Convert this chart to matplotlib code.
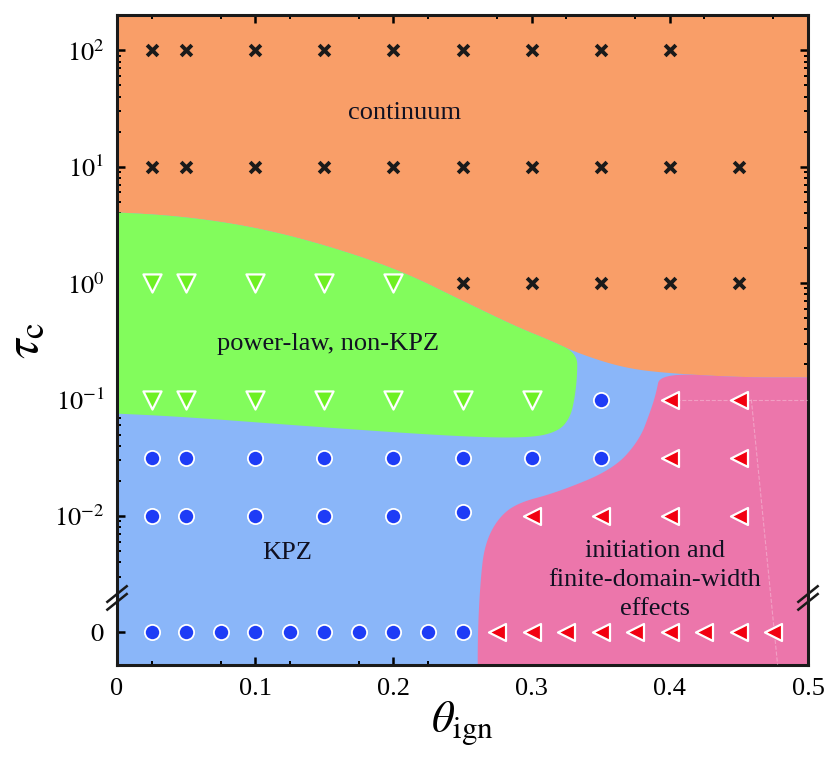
import numpy as np
import matplotlib
matplotlib.use("Agg")
import matplotlib.pyplot as plt

plt.rcParams['font.family'] = ['Liberation Serif', 'DejaVu Serif']
plt.rcParams['mathtext.fontset'] = 'stix'

# y is plotted as log10(tau_c); tau_c = 0 is drawn one decade below 1e-2
ZERO_POS = -3.0

# measured points (theta_ign, log10 tau_c or ZERO_POS)
cont_x = [0.025, 0.05, 0.1, 0.15, 0.2, 0.25, 0.3, 0.35, 0.4,
          0.025, 0.05, 0.1, 0.15, 0.2, 0.25, 0.3, 0.35, 0.4, 0.45,
          0.25, 0.3, 0.35, 0.4, 0.45]
cont_y = [2]*9 + [1]*10 + [0]*5

plaw_x = [0.025, 0.05, 0.1, 0.15, 0.2,
          0.025, 0.05, 0.1, 0.15, 0.2, 0.25, 0.3]
plaw_y = [0]*5 + [-1]*7

kpz_x = [0.35,
         0.025, 0.05, 0.1, 0.15, 0.2, 0.25, 0.3, 0.35,
         0.025, 0.05, 0.1, 0.15, 0.2, 0.25,
         0.025, 0.05, 0.075, 0.1, 0.125, 0.15, 0.175, 0.2, 0.225, 0.25]
kpz_y = [-1] + [-1.5]*8 + [-2]*5 + [-1.97] + [ZERO_POS]*10

init_x = [0.4, 0.45,
          0.4, 0.45,
          0.3, 0.35, 0.4, 0.45,
          0.275, 0.3, 0.325, 0.35, 0.375, 0.4, 0.425, 0.45, 0.475]
init_y = [-1]*2 + [-1.5]*2 + [-2]*4 + [ZERO_POS]*9

# region boundaries
# lower edge of the orange "continuum" region, left to right
orange_low_x = [-0.05, 0, 0.05, 0.1, 0.15, 0.205, 0.253, 0.29, 0.313, 0.333,
                0.364, 0.393, 0.451, 0.5, 0.55]
orange_low_y = [0.62, 0.61, 0.57, 0.48, 0.33, 0.11, -0.17, -0.38, -0.49, -0.60,
                -0.72, -0.77, -0.81, -0.81, -0.81]

# green region: upper edge follows the orange edge up to 0.333, then
# down the right side and back along the bottom
green_side_x = [0.333, 0.333, 0.331, 0.328, 0.32, 0.3, 0.25, 0.15, 0.05, 0, -0.05]
green_side_y = [-0.60, -0.8, -1.0, -1.15, -1.27, -1.33, -1.32, -1.24, -1.15, -1.12, -1.1]

# blue/pink edge, top to bottom
pink_edge_x = [0.393, 0.39, 0.386, 0.378, 0.359, 0.318, 0.289, 0.275,
               0.266, 0.263, 0.261, 0.261]
pink_edge_y = [-0.77, -0.95, -1.1, -1.35, -1.6, -1.8, -1.89, -2.03,
               -2.25, -2.55, -3.0, -3.5]

C_ORANGE = '#F99E68'
C_GREEN = '#82FC5C'
C_BLUE = '#8AB6F9'
C_PINK = '#EC76AB'


def smooth(x, y, n=4):
    # chaikin corner cutting on an open curve, keeps the end points
    p = np.column_stack([x, y]).astype(float)
    for _ in range(n):
        q = 0.75 * p[:-1] + 0.25 * p[1:]
        r = 0.25 * p[:-1] + 0.75 * p[1:]
        mid = np.empty((2 * len(q), 2))
        mid[0::2] = q
        mid[1::2] = r
        p = np.vstack([p[:1], mid, p[-1:]])
    return p[:, 0], p[:, 1]


fig = plt.figure(figsize=(8.3, 7.65), dpi=100)
ax = fig.add_axes([0.141, 0.1307, 0.8325, 0.8493])
ax.set_facecolor(C_ORANGE)

ylo, yhi = -3.28, 2.30

ox, oy = smooth(orange_low_x, orange_low_y)
ax.fill(np.r_[ox, 0.6, -0.1], np.r_[oy, -4, -4], color=C_BLUE, lw=0, zorder=1)

# green: orange edge up to x = 0.333, then its own side
k = np.searchsorted(orange_low_x, 0.333) + 1
gx, gy = smooth(orange_low_x[:k] + green_side_x[1:], orange_low_y[:k] + green_side_y[1:], 3)
ax.fill(gx, gy, color=C_GREEN, lw=0, zorder=2)

# pink: below the orange edge right of 0.393, left side is the blue/pink edge
k0 = orange_low_x.index(0.393)
px_, py_ = smooth(pink_edge_x[::-1] + orange_low_x[k0 + 1:],
                  pink_edge_y[::-1] + orange_low_y[k0 + 1:], 4)
ax.fill(np.r_[px_, 0.6], np.r_[py_, -4], color=C_PINK, lw=0, zorder=2)

# faint dashed guide lines in the pink area
ax.plot([0.4, 0.5], [-1, -1], ls='--', color='white', lw=0.8, alpha=0.3, zorder=3)
ax.plot([0.459, 0.478], [-1, -3.28], ls='--', color='white', lw=0.8, alpha=0.3, zorder=3)

ax.scatter(cont_x, cont_y, marker='x', s=60, c='#1a1a1a', linewidths=2.8, zorder=5)
ax.scatter(plaw_x, plaw_y, marker='v', s=170, c='#6EF022', edgecolors='white',
           linewidths=1.6, zorder=5)
ax.scatter(kpz_x, kpz_y, marker='o', s=120, c='#1E3CF6', edgecolors='white',
           linewidths=1.3, zorder=5)
ax.scatter(init_x, init_y, marker='<', s=150, c='#F20010', edgecolors='white',
           linewidths=1.6, zorder=5)

tkw = dict(fontsize=19, ha='center', va='center', color='#111122', zorder=6)
ax.text(0.208, 1.46, 'continuum', **tkw)
ax.text(0.153, -0.52, 'power-law, non-KPZ', **tkw)
ax.text(0.123, -2.32, 'KPZ', **tkw)
ax.text(0.389, -2.55, 'initiation and\nfinite-domain-width\neffects',
        linespacing=1.4, **tkw)

ax.set_xlim(0, 0.5)
ax.set_ylim(ylo, yhi)

ax.set_xticks(np.arange(0, 0.51, 0.1))
ax.set_xticklabels(['0', '0.1', '0.2', '0.3', '0.4', '0.5'])
ax.set_xticks(np.arange(0.025, 0.5, 0.05), minor=True)

ymaj = [2, 1, 0, -1, -2, ZERO_POS]
ax.set_yticks(ymaj)
ax.set_yticklabels([r'$10^{2}$', r'$10^{1}$', r'$10^{0}$', r'$10^{-1}$',
                    r'$10^{-2}$', r'$0$'])
yminor = [np.log10(k) + d for d in range(-2, 2) for k in range(2, 10)]
yminor += [np.log10(2) + 2]
yminor += [np.log10(k) - 3 for k in range(3, 10)]
ax.set_yticks([v for v in yminor if ylo < v < yhi], minor=True)

ax.tick_params(which='both', direction='in', top=True, right=True,
               labelsize=19, width=1.8, pad=9)
ax.tick_params(which='major', length=6)
ax.tick_params(which='minor', length=3, width=1.4)
for s in ax.spines.values():
    s.set_linewidth(2.2)
    s.set_color('#1a1a1a')

ax.set_xlabel(r'$\theta_{\mathrm{ign}}$', fontsize=32, labelpad=0)
ax.set_ylabel(r'$\tau_{\mathrm{c}}$', fontsize=36, labelpad=4)

# axis break marks on both y spines
yb = (-2.704 - ylo) / (yhi - ylo)
for xs in (0, 1):
    for dy in (-0.006, 0.006):
        ax.plot([xs - 0.014, xs + 0.014], [yb + dy - 0.012, yb + dy + 0.012],
                transform=ax.transAxes, color='#1a1a1a', lw=1.8,
                clip_on=False, zorder=7)

fig.savefig('out.png', dpi=100)
